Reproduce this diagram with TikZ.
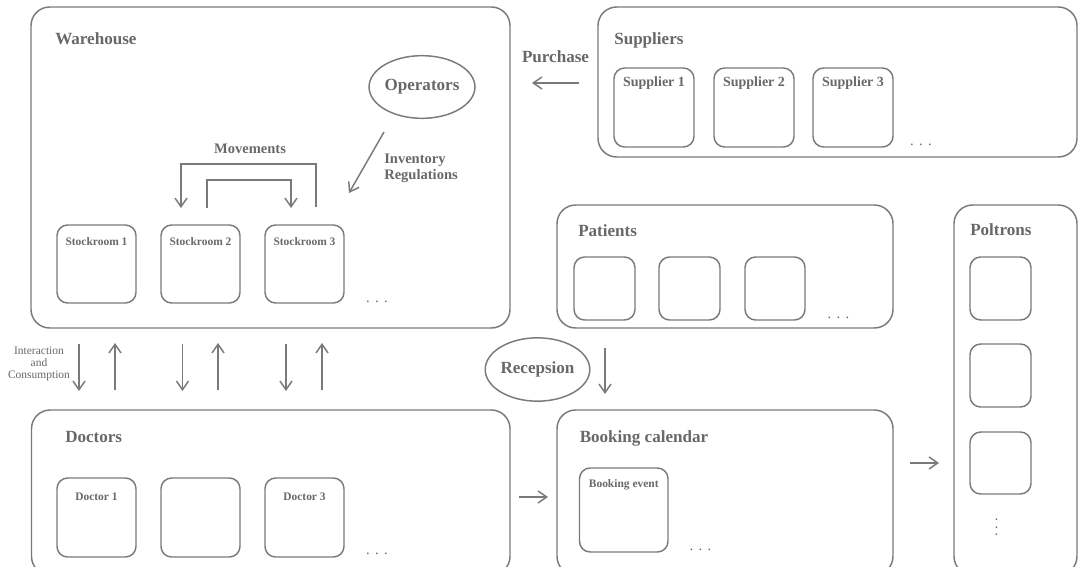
\documentclass[tikz,border=0pt]{standalone}
\usepackage{fontspec}
\setmainfont{Liberation Serif}
\usetikzlibrary{arrows.meta,shapes.geometric,fit}
\definecolor{linegray}{RGB}{122,122,122}
\definecolor{textgray}{RGB}{104,104,104}
\tikzset{
  bigbox/.style={draw=linegray, line width=1.1pt, rounded corners=14pt, inner sep=0pt},
  unitbox/.style={draw=linegray, line width=1.1pt, rounded corners=8pt, inner sep=0pt},
  oval/.style={ellipse, draw=linegray, line width=1.1pt, inner sep=0pt,
    minimum width=69.5pt, minimum height=47pt, text=textgray,
    font=\bfseries\fontsize{12.8}{15}\selectfont},
  title/.style={text=textgray, inner sep=0pt, anchor=base west,
    font=\bfseries\fontsize{12.8}{15}\selectfont},
  note/.style={text=textgray, inner sep=0pt,
    font=\bfseries\fontsize{10.9}{12}\selectfont},
  supplabel/.style={text=textgray, inner sep=0pt, anchor=base,
    font=\bfseries\fontsize{10.5}{12}\selectfont},
  unitlabel/.style={text=textgray, inner sep=0pt, anchor=base,
    font=\bfseries\fontsize{8.6}{10}\selectfont},
  small/.style={text=textgray, inner sep=0pt, align=center,
    font=\fontsize{8.6}{9}\selectfont},
  ellipsis/.style={text=textgray, inner sep=0pt, anchor=base,
    font=\fontsize{11}{12}\selectfont},
  flow/.style={draw=linegray, line width=1.1pt,
    -{Straight Barb[length=6.5pt,width=9pt]}},
}
\begin{document}
\begin{tikzpicture}[x=0.75pt,y=-0.75pt]
\useasboundingbox (0,0) rectangle (1078,567);

% ---------------- Warehouse ----------------
\node[bigbox, fit={(31,7) (510,328)}] (warehouse) {};
\node[title] (warehouseT) at (55,45) {Warehouse};
\node[oval] (operators) at (422,87) {Operators};
\node[unitbox, fit={(57,225) (136,303)}] (st1) {};
\node[unitbox, fit={(161,225) (240,303)}] (st2) {};
\node[unitbox, fit={(265,225) (344,303)}] (st3) {};
\node[unitlabel] (st1T) at (96.5,245) {Stockroom 1};
\node[unitlabel] (st2T) at (200.5,245) {Stockroom 2};
\node[unitlabel] (st3T) at (304.5,245) {Stockroom 3};
\node[ellipsis] (stdots) at (377,302) {.\hspace{4pt}.\hspace{4pt}.};

% movements between stockrooms
\node[note, anchor=base] (movT) at (250,153) {Movements};
\coordinate (mvOutS) at (316,207);
\coordinate (mvOutE) at (181,208);
\coordinate (mvInS) at (207,208);
\coordinate (mvInE) at (291,208);
\draw[flow] (mvOutS) -- ++(0,-43) -| (mvOutE);
\draw[flow] (mvInS) -- ++(0,-28) -| (mvInE);

% operators act on the stockrooms
\coordinate (invS) at (384,132);
\coordinate (invE) at (349,193);
\draw[flow] (invS) -- (invE);
\node[note, align=left, anchor=north west] (invT) at (384,153.5) {Inventory\\Regulations};

% ---------------- Suppliers ----------------
\node[bigbox, fit={(598,7) (1077,157)}] (suppliers) {};
\node[title] (suppliersT) at (614,45) {Suppliers};
\node[unitbox, fit={(614,68) (694,147)}] (sup1) {};
\node[unitbox, fit={(714,68) (794,147)}] (sup2) {};
\node[unitbox, fit={(813,68) (893,147)}] (sup3) {};
\node[supplabel] (sup1T) at (654,87) {Supplier 1};
\node[supplabel] (sup2T) at (754,87) {Supplier 2};
\node[supplabel] (sup3T) at (853,87) {Supplier 3};
\node[ellipsis] (supdots) at (921,145) {.\hspace{4pt}.\hspace{4pt}.};

\node[title, anchor=base] (purchaseT) at (555.5,63) {Purchase};
\coordinate (purS) at (579,83);
\coordinate (purE) at (532,83);
\draw[flow] (purS) -- (purE);

% ---------------- Patients ----------------
\node[bigbox, fit={(557,205) (893,328)}] (patients) {};
\node[title] (patientsT) at (578,236) {Patients};
\node[unitbox, fit={(574,257) (635,320)}] (pat1) {};
\node[unitbox, fit={(659,257) (720,320)}] (pat2) {};
\node[unitbox, fit={(745,257) (805,320)}] (pat3) {};
\node[ellipsis] (patdots) at (838.5,318) {.\hspace{4pt}.\hspace{4pt}.};

% ---------------- Poltrons ----------------
\node[bigbox, fit={(954,205) (1077,575)}] (poltrons) {};
\node[title] (poltronsT) at (970,235) {Poltrons};
\node[unitbox, fit={(970,257) (1031,320)}] (pol1) {};
\node[unitbox, fit={(970,344) (1031,407)}] (pol2) {};
\node[unitbox, fit={(970,432) (1031,494)}] (pol3) {};
\node[ellipsis, anchor=center, rotate=90] (poldots) at (996.5,527.5) {.\hspace{2.9pt}.\hspace{2.9pt}.};

% ---------------- Reception ----------------
\node[oval, minimum width=68.5pt, minimum height=47.5pt] (recepsion) at (537.5,369.5) {Recepsion};
\coordinate (recS) at (605,348);
\coordinate (recE) at (605,394);
\draw[flow] (recS) -- (recE);

% ---------------- Booking calendar ----------------
\node[bigbox, fit={(557,410) (893,575)}] (booking) {};
\node[title] (bookingT) at (579.5,442) {Booking calendar};
\node[unitbox, fit={(579.5,468) (668,552)}] (event) {};
\node[unitlabel] (eventT) at (623.75,487) {Booking event};
\node[ellipsis] (bookdots) at (700.5,550) {.\hspace{4pt}.\hspace{4pt}.};

\coordinate (bpS) at (910,463);
\coordinate (bpE) at (939,463);
\draw[flow] (bpS) -- (bpE);

% ---------------- Doctors ----------------
\node[bigbox, fit={(31.5,410) (510,575)}] (doctors) {};
\node[title] (doctorsT) at (65,442) {Doctors};
\node[unitbox, fit={(57,478) (136,557)}] (doc1) {};
\node[unitbox, fit={(161,478) (240,557)}] (doc2) {};
\node[unitbox, fit={(265,478) (344,557)}] (doc3) {};
\node[unitlabel] (doc1T) at (96.5,500) {Doctor 1};
\node[unitlabel] (doc3T) at (304.5,500) {Doctor 3};
\node[ellipsis] (docdots) at (377,554) {.\hspace{4pt}.\hspace{4pt}.};

\coordinate (dbS) at (519,497);
\coordinate (dbE) at (548,497);
\draw[flow] (dbS) -- (dbE);

% ---------------- Warehouse <-> Doctors ----------------
\node[small] (interT) at (39,363.5) {Interaction\\and\\Consumption};
\foreach \dx/\ux [count=\i] in {79/115, 182.5/218, 286/322} {
  \coordinate (down\i S) at (\dx,344);
  \coordinate (down\i E) at (\dx,391);
  \coordinate (up\i S) at (\ux,390);
  \coordinate (up\i E) at (\ux,343);
  \draw[flow] (down\i S) -- (down\i E);
  \draw[flow] (up\i S) -- (up\i E);
}
\end{tikzpicture}
\end{document}
